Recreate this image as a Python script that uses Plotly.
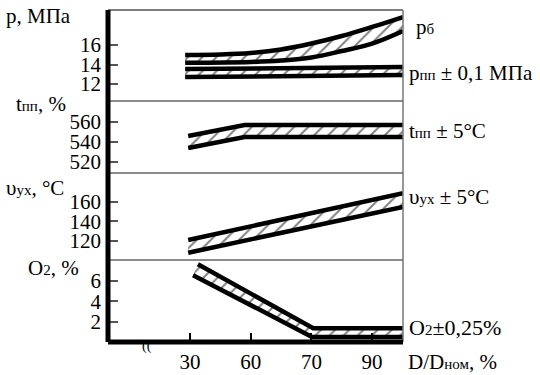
import plotly.graph_objects as go

# ---- data ----
x_tick_labels = ["30", "60", "70", "90"]
x_tick_pos = [1, 2, 3, 4]

# p, MPa panel
pb_upper_x = [0.92, 1.5, 2.0, 2.5, 3.0, 3.5, 4.0, 4.51]
pb_upper_y = [14.97, 15.03, 15.18, 15.54, 16.15, 16.92, 17.85, 18.87]
pb_lower_x = [0.92, 2.0, 2.5, 3.0, 3.5, 4.0, 4.51]
pb_lower_y = [14.18, 14.26, 14.41, 14.72, 15.38, 16.15, 17.44]
ppp_x = [0.92, 4.51]
ppp_upper_y = [13.54, 13.74]
ppp_lower_y = [12.72, 12.92]
p_ticks = [12, 14, 16]

# t_pp panel
t_x = [0.97, 1.9, 4.51]
t_upper_y = [546, 557, 557]
t_lower_y = [534, 545, 545]
t_ticks = [520, 540, 560]

# flue gas temperature panel
v_x = [0.97, 4.51]
v_upper_y = [121, 169]
v_lower_y = [108, 155]
v_ticks = [120, 140, 160]

# O2 panel
o2_upper_x = [1.13, 3.03, 4.51]
o2_upper_y = [7.6, 1.4, 1.4]
o2_lower_x = [1.05, 3.01, 4.51]
o2_lower_y = [6.55, 0.55, 0.55]
o2_ticks = [2, 4, 6]

# ---- layout helpers ----
W, H = 540, 375
L, R, T, B = 108, 403, 10, 342
PW, PH = R - L, B - T


def px(x):
    return (x - L) / PW


def py(y):
    return (B - y) / PH


FONT = "Liberation Serif"
LW = 4.5
hatch = dict(shape="/", size=10, solidity=0.2, fgcolor="black", bgcolor="white")

fig = go.Figure()


def band(xl, yl, xu, yu, yaxis, spline=False):
    shape = "spline" if spline else "linear"
    fig.add_trace(go.Scatter(x=xl, y=yl, mode="lines", yaxis=yaxis,
                             line=dict(color="black", width=LW, shape=shape),
                             showlegend=False, hoverinfo="skip"))
    fig.add_trace(go.Scatter(x=xu, y=yu, mode="lines", yaxis=yaxis,
                             line=dict(color="black", width=LW, shape=shape),
                             fill="tonexty", fillpattern=hatch, fillcolor="white",
                             showlegend=False, hoverinfo="skip"))


band(ppp_x, ppp_lower_y, ppp_x, ppp_upper_y, "y4")
band(pb_lower_x, pb_lower_y, pb_upper_x, pb_upper_y, "y4", spline=True)
band(t_x, t_lower_y, t_x, t_upper_y, "y3")
band(v_x, v_lower_y, v_x, v_upper_y, "y2")
band(o2_lower_x, o2_lower_y, o2_upper_x, o2_upper_y, "y")

# panel domains (pixel boundaries)
b_p_t, b_t_v, b_v_o = 101, 173, 260
dom_o2 = [0, py(b_v_o)]
dom_v = [py(b_v_o), py(b_t_v)]
dom_t = [py(b_t_v), py(b_p_t)]
dom_p = [py(b_p_t), 1]


def yax(domain, rng, ticks):
    return dict(domain=domain, range=rng, tickvals=ticks, ticktext=[str(t) for t in ticks],
                anchor="x", showgrid=False, zeroline=False, showline=False,
                automargin=False,
                ticks="inside", ticklen=10, tickwidth=1.5, tickcolor="#555",
                ticklabelstandoff=6,
                tickfont=dict(family=FONT, size=21, color="black"))


fig.update_layout(
    width=W, height=H,
    margin=dict(l=L, r=W - R, t=T, b=H - B, autoexpand=False),
    paper_bgcolor="white", plot_bgcolor="white",
    xaxis=dict(range=[-0.351, 4.509], tickvals=x_tick_pos, ticktext=x_tick_labels,
               anchor="y", showgrid=False, zeroline=False, showline=False,
               automargin=False,
               ticks="inside", ticklen=9, tickwidth=1.5, tickcolor="black",
               ticklabelstandoff=5,
               tickfont=dict(family=FONT, size=21, color="black")),
    yaxis=yax(dom_o2, [0.06, 8.02], o2_ticks),
    yaxis2=yax(dom_v, [100.5, 189.7], v_ticks),
    yaxis3=yax(dom_t, [509, 581], t_ticks),
    yaxis4=yax(dom_p, [10.26, 19.59], p_ticks),
)

shapes = []
# frame
shapes.append(dict(type="line", xref="paper", yref="paper", x0=0, x1=1, y0=1, y1=1,
                   line=dict(color="black", width=1.2)))
shapes.append(dict(type="line", xref="paper", yref="paper", x0=1, x1=1, y0=0, y1=1,
                   line=dict(color="#777", width=1.5)))
for b in (b_p_t, b_t_v, b_v_o):
    shapes.append(dict(type="line", xref="paper", yref="paper", x0=0, x1=1, y0=py(b), y1=py(b),
                       line=dict(color="#666", width=1.5)))
shapes.append(dict(type="line", xref="paper", yref="paper", x0=0, x1=0, y0=0, y1=1,
                   line=dict(color="black", width=5)))
shapes.append(dict(type="line", xref="paper", yref="paper", x0=0, x1=1, y0=0, y1=0,
                   line=dict(color="black", width=5)))
fig.update_layout(shapes=shapes)


def sub(s, size=15):
    return f"<span style='font-size:{size}px'>{s}</span>"


def ann(text, x, y, size=21, xanchor="left"):
    fig.add_annotation(text=text, xref="paper", yref="paper", x=px(x), y=py(y),
                       xanchor=xanchor, yanchor="middle", showarrow=False,
                       font=dict(family=FONT, size=size, color="black"))


# left titles
ann("p, МПа", 4, 16)
ann("t" + sub("пп") + ", %", 14, 104)
ann("υ" + sub("ух") + ", °C", 4, 188)
ann("O" + sub("2") + ", %", 26, 268)

# right labels
ann("p" + sub("б"), 414, 27)
ann("p" + sub("пп") + " ± 0,1 МПа", 407, 73)
ann("t" + sub("пп") + " ± 5°C", 407, 131)
ann("υ" + sub("ух") + " ± 5°C", 407, 197)
ann("O" + sub("2") + "±0,25%", 407, 327, size=22)
ann("D/D" + sub("ном") + ", %", 406, 362)

# axis break mark
ann("((", 147, 346, size=14, xanchor="center")

fig.write_html("out.html", config={"displayModeBar": False},
               post_script="document.body.style.margin='0';")
